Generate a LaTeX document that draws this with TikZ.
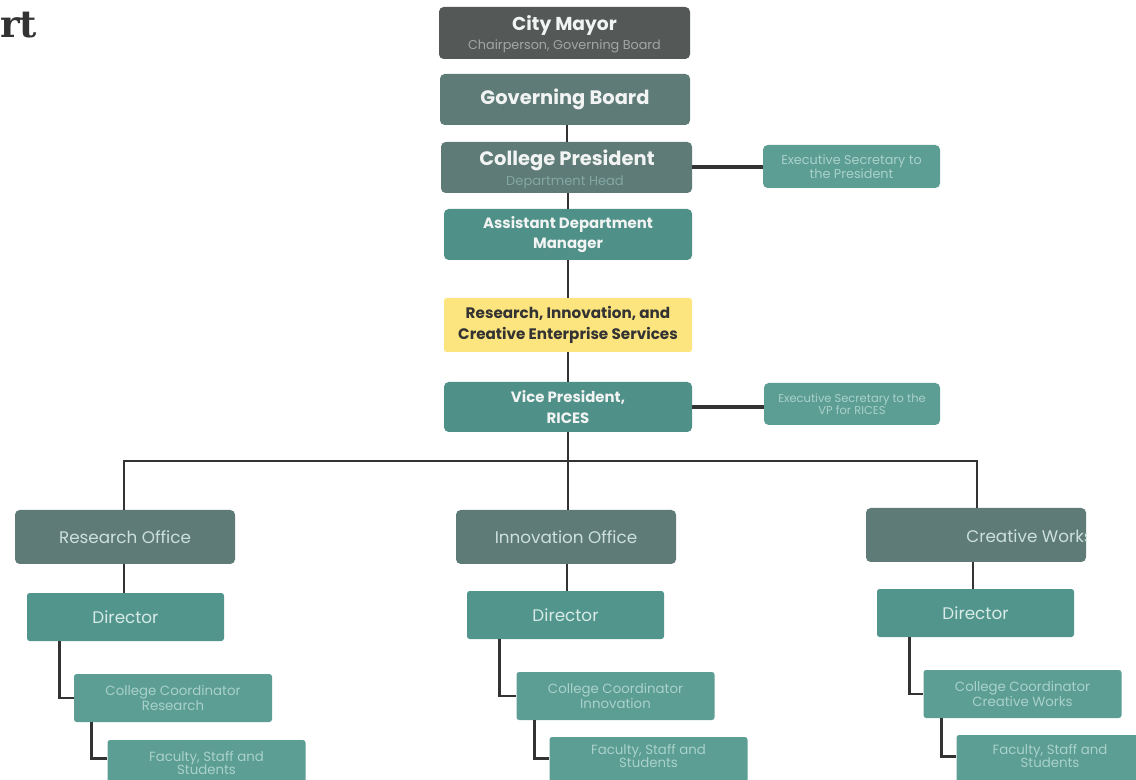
\documentclass[tikz,border=0pt]{standalone}
\usepackage{fontspec}
\setmainfont{Poppins}
\newfontfamily\titlefont{DejaVu Serif}
\definecolor{cmayor}{HTML}{545957}
\definecolor{cgrey}{HTML}{5E7B77}
\definecolor{cteal}{HTML}{4F9088}
\definecolor{csec}{HTML}{5C9D94}
\definecolor{cdir}{HTML}{51958C}
\definecolor{cyel}{HTML}{FCE47E}
\definecolor{cline}{HTML}{333333}
\definecolor{ctxtA}{HTML}{F2F4F3}
\definecolor{csubA}{HTML}{A3A6A4}
\definecolor{csubB}{HTML}{83A8A2}
\definecolor{csectxt}{HTML}{A9D2CB}
\definecolor{cofftxt}{HTML}{CDE0DC}
\definecolor{cdirtxt}{HTML}{D8EBE7}
\tikzset{
  box/.style={rounded corners=3.5pt, inner sep=0pt, align=center},
  topfont/.style={font=\fontsize{14.6pt}{16pt}\selectfont\bfseries},
  midfont/.style={font=\fontsize{11.2pt}{15.5pt}\selectfont\bfseries},
  offfont/.style={font=\fontsize{12.6pt}{14pt}\selectfont},
  smallfont/.style={font=\fontsize{10pt}{10pt}\selectfont},
  lowbox/.style={box, fill=csec, minimum width=148.5pt, minimum height=36pt, text=csectxt, rounded corners=2pt, smallfont},
  dirbox/.style={box, fill=cdir, minimum width=147.75pt, minimum height=36pt, text=cdirtxt, rounded corners=2pt, offfont},
  offbox/.style={box, fill=cgrey, minimum width=165pt, minimum height=40.5pt, text=cofftxt, offfont},
  conn/.style={draw=cline, line width=2.2pt},
  sconn/.style={draw=cline, line width=3pt},
}
\begin{document}
\begin{tikzpicture}[x=0.75pt,y=-0.75pt]
\useasboundingbox (0,0) rectangle (1136,780);
\clip (0,0) rectangle (1136,780);
% title fragment
\node[anchor=south west, inner sep=0pt, text=cline, font=\titlefont\bfseries\fontsize{28pt}{28pt}\selectfont] (title) at (0,38) {rt};
% top chain
\node[box, fill=cmayor, minimum width=188.25pt, minimum height=39pt] (mayor) at (564.5,33) {};
\node[text=ctxtA, inner sep=0pt, font=\fontsize{14pt}{15pt}\selectfont\bfseries] (mayort) at (564.5,26) {City Mayor};
\node[text=csubA, inner sep=0pt, font=\fontsize{9.6pt}{10pt}\selectfont] (mayors) at (564.5,46) {Chairperson, Governing Board};
\node[box, fill=cgrey, minimum width=187.5pt, minimum height=38.25pt, text=ctxtA, topfont] (board) at (565,99.5) {Governing Board};
\node[box, fill=cgrey, minimum width=188.25pt, minimum height=38.25pt] (pres) at (566.5,167.5) {};
\node[text=ctxtA, inner sep=0pt, topfont] (prest) at (567,160) {College President};
\node[text=csubB, inner sep=0pt, font=\fontsize{9.8pt}{10pt}\selectfont] (press) at (565,182) {Department Head};
\node[box, fill=csec, minimum width=132.75pt, minimum height=32.25pt, text=csectxt, font=\fontsize{9.6pt}{9.2pt}\selectfont] (secp) at (851.5,166.5) {Executive Secretary to\\the President};
\node[box, fill=cteal, minimum width=186pt, minimum height=38.25pt, text=ctxtA, midfont] (asst) at (568,234.5) {Assistant Department\\Manager};
\node[box, fill=cyel, minimum width=186pt, minimum height=40.5pt, text=cline, rounded corners=2pt, font=\fontsize{11.4pt}{15.5pt}\selectfont\bfseries] (rices) at (568,325) {Research, Innovation, and\\Creative Enterprise Services};
\node[box, fill=cteal, minimum width=186pt, minimum height=37.5pt, text=ctxtA, midfont] (vp) at (568,407) {Vice President,\\RICES};
\node[box, fill=csec, minimum width=132pt, minimum height=31.5pt, text=csectxt, font=\fontsize{8.6pt}{9pt}\selectfont] (secv) at (852,404) {Executive Secretary to the\\VP for RICES};
% offices
\node[offbox] (resoff) at (125,537) {Research Office};
\node[offbox] (innoff) at (566,537) {Innovation Office};
\node[offbox] (creoff) at (976,535) {};
\begin{scope}
\clip (866,508) rectangle (1086,562);
\node[anchor=east, text=cofftxt, inner sep=0pt, offfont] (creofft) at (1093,536) {Creative Works};
\end{scope}
% directors
\node[dirbox] (dirR) at (125.5,617) {Director};
\node[dirbox] (dirI) at (565.5,615) {Director};
\node[dirbox] (dirC) at (975.5,613) {Director};
% coordinators
\node[lowbox] (cooR) at (173,698) {College Coordinator\\Research};
\node[lowbox] (cooI) at (615.5,696) {College Coordinator\\Innovation};
\node[lowbox] (cooC) at (1022.5,694) {College Coordinator\\Creative Works};
% faculty
\node[lowbox] (facR) at (206.5,764) {};
\node[text=csectxt, inner sep=0pt, align=center, smallfont] (facRt) at (206.5,763) {Faculty, Staff and\\Students};
\node[lowbox] (facI) at (648.5,761) {};
\node[text=csectxt, inner sep=0pt, align=center, smallfont] (facIt) at (648.5,756) {Faculty, Staff and\\Students};
\node[lowbox] (facC) at (1055.5,759) {};
\node[text=csectxt, inner sep=0pt, align=center, smallfont] (facCt) at (1050,756) {Faculty, Staff and\\Students};
% connectors
\draw[conn] (board.south -| 567,0) -- (pres.north -| 567,0);
\draw[conn] (pres.south -| 568,0) -- (asst.north -| 568,0);
\draw[conn] (asst.south) -- (rices.north);
\draw[conn] (rices.south) -- (vp.north);
\draw[sconn] (pres.east) -- (pres.east -| secp.west);
\draw[sconn] (vp.east) -- (vp.east -| secv.west);
\coordinate (bus) at (568,461);
\draw[conn] (vp.south) -- (bus);
\draw[conn] (resoff.north -| 124,0) |- (bus) -| (creoff.north -| 977,0);
\draw[conn] (bus) -- (innoff.north -| bus);
\draw[conn] (resoff.south -| 124,0) -- (dirR.north -| 124,0);
\draw[conn] (innoff.south -| 567,0) -- (dirI.north -| 567,0);
\draw[conn] (creoff.south -| 973,0) -- (dirC.north -| 973,0);
\draw[conn] ([xshift=24.75pt]dirR.south west) |- (cooR.west);
\draw[conn] ([xshift=24.75pt]dirI.south west) |- (cooI.west);
\draw[conn] ([xshift=24.75pt]dirC.south west) |- (cooC.west);
\draw[conn] ([xshift=13.5pt]cooR.south west) |- ([yshift=4pt]facR.west);
\draw[conn] ([xshift=13.5pt]cooI.south west) |- ([yshift=2pt]facI.west);
\draw[conn] ([xshift=13.5pt]cooC.south west) |- ([yshift=2pt]facC.west);
\end{tikzpicture}
\end{document}
